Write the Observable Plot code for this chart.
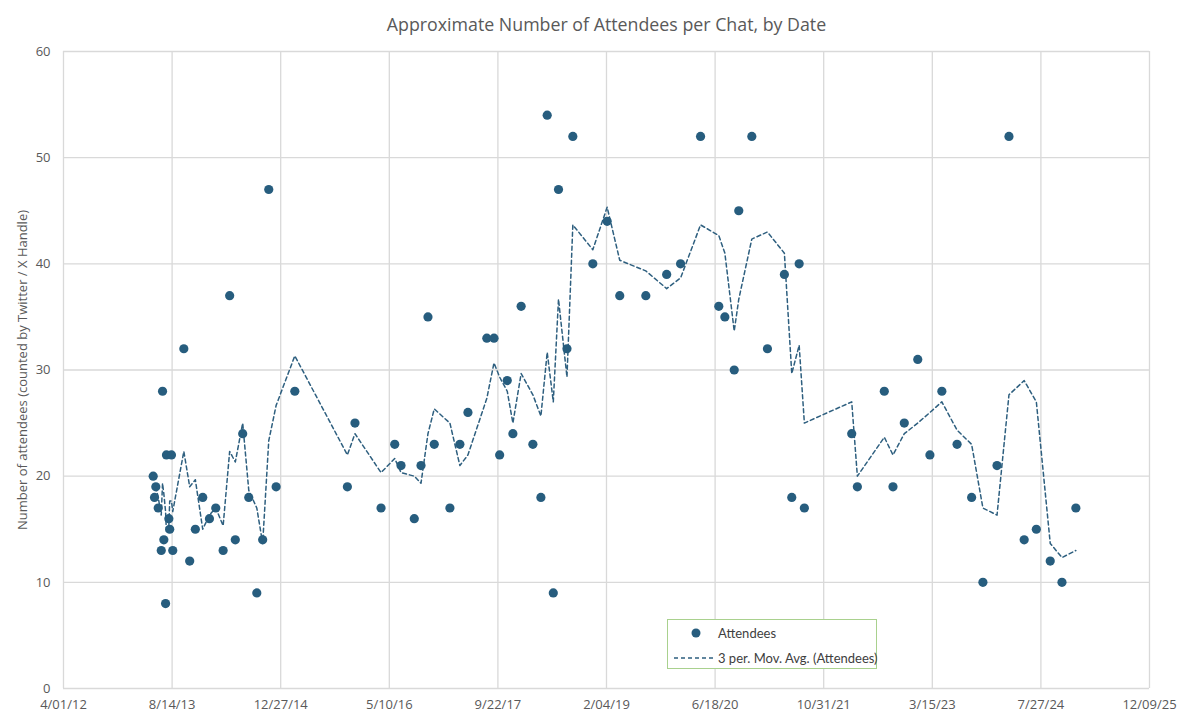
<!DOCTYPE html>
<html>
<head>
<meta charset="utf-8">
<script src="https://cdn.jsdelivr.net/npm/d3@7"></script>
<script src="https://cdn.jsdelivr.net/npm/@observablehq/plot@0.6"></script>
<style>
  html, body { margin: 0; padding: 0; background: #fff; }
  #wrap { position: relative; width: 1200px; height: 722px; font-family: "Open Sans", sans-serif; }
  #legend {
    position: absolute; left: 667px; top: 619px; width: 208px; height: 48px;
    border: 1.5px solid #a9d18e; background: #fff; color: #404040; font-size: 13px;
    font-family: Lato, sans-serif; white-space: nowrap;
  }
  #legend .row { position: absolute; left: 0; height: 20px; display: flex; align-items: center; }
  #legend svg { display: block; }
</style>
</head>
<body>
<div id="wrap">
  <div id="chart"></div>
  <div id="legend">
    <div class="row" style="top:3px;">
      <svg width="50" height="20"><circle cx="28" cy="10" r="4.5" fill="#275d7e"></circle></svg>
      <span>Attendees</span>
    </div>
    <div class="row" style="top:28px;">
      <svg width="50" height="20"><line x1="6" x2="46" y1="10" y2="10" stroke="#2e5f7f" stroke-width="1.5" stroke-dasharray="4,3"></line></svg>
      <span>3 per. Mov. Avg. (Attendees)</span>
    </div>
  </div>
</div>
<script>
const chatDates = [
  "2013-05-19","2013-05-25","2013-05-31","2013-06-11","2013-06-25","2013-07-01","2013-07-07","2013-07-15",
  "2013-07-19","2013-07-30","2013-08-03","2013-08-11","2013-08-17","2013-10-07","2013-11-03","2013-11-29",
  "2014-01-02","2014-02-02","2014-03-03","2014-04-06","2014-05-06","2014-06-01","2014-07-05","2014-08-02",
  "2014-09-08","2014-10-05","2014-11-02","2014-12-06","2015-03-02","2015-10-30","2015-12-04","2016-04-02",
  "2016-06-04","2016-07-03","2016-09-02","2016-10-03","2016-11-04","2016-12-03","2017-02-13","2017-03-31",
  "2017-05-07","2017-08-02","2017-09-04","2017-09-30","2017-11-04","2017-11-30","2018-01-07","2018-03-02",
  "2018-04-08","2018-05-07","2018-06-04","2018-06-28","2018-08-06","2018-09-02","2018-12-03","2019-02-07",
  "2019-04-06","2019-08-04","2019-11-08","2020-01-11","2020-04-12","2020-07-05","2020-08-02","2020-09-14",
  "2020-10-05","2020-12-04","2021-02-14","2021-05-03","2021-06-06","2021-07-10","2021-08-03","2022-03-09",
  "2022-04-04","2022-08-06","2022-09-15","2022-11-06","2023-01-07","2023-03-04","2023-04-28","2023-07-07",
  "2023-09-12","2023-11-03","2024-01-07","2024-03-02","2024-05-11","2024-07-06","2024-09-08","2024-11-01",
  "2025-01-04"
];
const attendees = [
  20,18,19,17,13,28,14,8,
  22,16,15,22,13,32,12,15,
  18,16,17,13,37,14,24,18,
  9,14,47,19,28,19,25,17,
  23,21,16,21,35,23,17,23,
  26,33,33,22,29,24,36,23,
  18,54,9,47,32,52,40,44,
  37,37,39,40,52,36,35,30,
  45,52,32,39,18,40,17,24,
  19,28,19,25,31,22,28,23,
  18,10,21,52,14,15,12,10,
  17
];
const xTickDates = ["2012-04-01","2013-08-14","2014-12-27","2016-05-10","2017-09-22","2019-02-04",
  "2020-06-18","2021-10-31","2023-03-15","2024-07-27","2025-12-09"];
const xTickLabels = ["4/01/12","8/14/13","12/27/14","5/10/16","9/22/17","2/04/19",
  "6/18/20","10/31/21","3/15/23","7/27/24","12/09/25"];
const yTicks = [0,10,20,30,40,50,60];

const titleText = "Approximate Number of Attendees per Chat, by Date";
const yLabelText = "Number of attendees (counted by Twitter / X Handle)";

const data = chatDates.map((d, i) => ({date: new Date(d), v: attendees[i]}));
const xTicks = xTickDates.map(d => new Date(d));
const labelMap = new Map(xTicks.map((d, i) => [+d, xTickLabels[i]]));

const chart = Plot.plot({
  width: 1200,
  height: 722,
  marginLeft: 63,
  marginRight: 51,
  marginTop: 51,
  marginBottom: 34,
  style: {fontFamily: "Open Sans, sans-serif", fontSize: "13px", color: "#595959", background: "#fff"},
  x: {type: "utc", domain: [xTicks[0], xTicks[xTicks.length - 1]], label: null},
  y: {domain: [0, 60], label: null},
  marks: [
    Plot.gridX(xTicks, {stroke: "#d9d9d9", strokeOpacity: 1, strokeWidth: 1.3}),
    Plot.gridY(yTicks, {stroke: "#d9d9d9", strokeOpacity: 1, strokeWidth: 1.3}),
    Plot.axisX(xTicks, {tickSize: 0, tickPadding: 11, tickFormat: d => labelMap.get(+d), fill: "#595959", fontSize: 13}),
    Plot.axisY(yTicks, {tickSize: 0, tickPadding: 13, fill: "#595959", fontSize: 13}),
    Plot.lineY(data, Plot.windowY({k: 3, anchor: "end", reduce: "mean", strict: true},
      {x: "date", y: "v", stroke: "#2e5f7f", strokeWidth: 1.5, strokeDasharray: "4,3"})),
    Plot.dot(data, {x: "date", y: "v", r: 4.6, fill: "#275d7e", stroke: "none"}),
    Plot.text([titleText], {text: d => d, frameAnchor: "top", dy: -33, fontSize: 17.8, fill: "#595959", textAnchor: "middle"}),
    Plot.text([yLabelText], {text: d => d, frameAnchor: "left", dx: -41, rotate: -90, fontSize: 13, fill: "#595959", textAnchor: "middle"})
  ]
});
document.getElementById("chart").appendChild(chart);
</script>
</body>
</html>
